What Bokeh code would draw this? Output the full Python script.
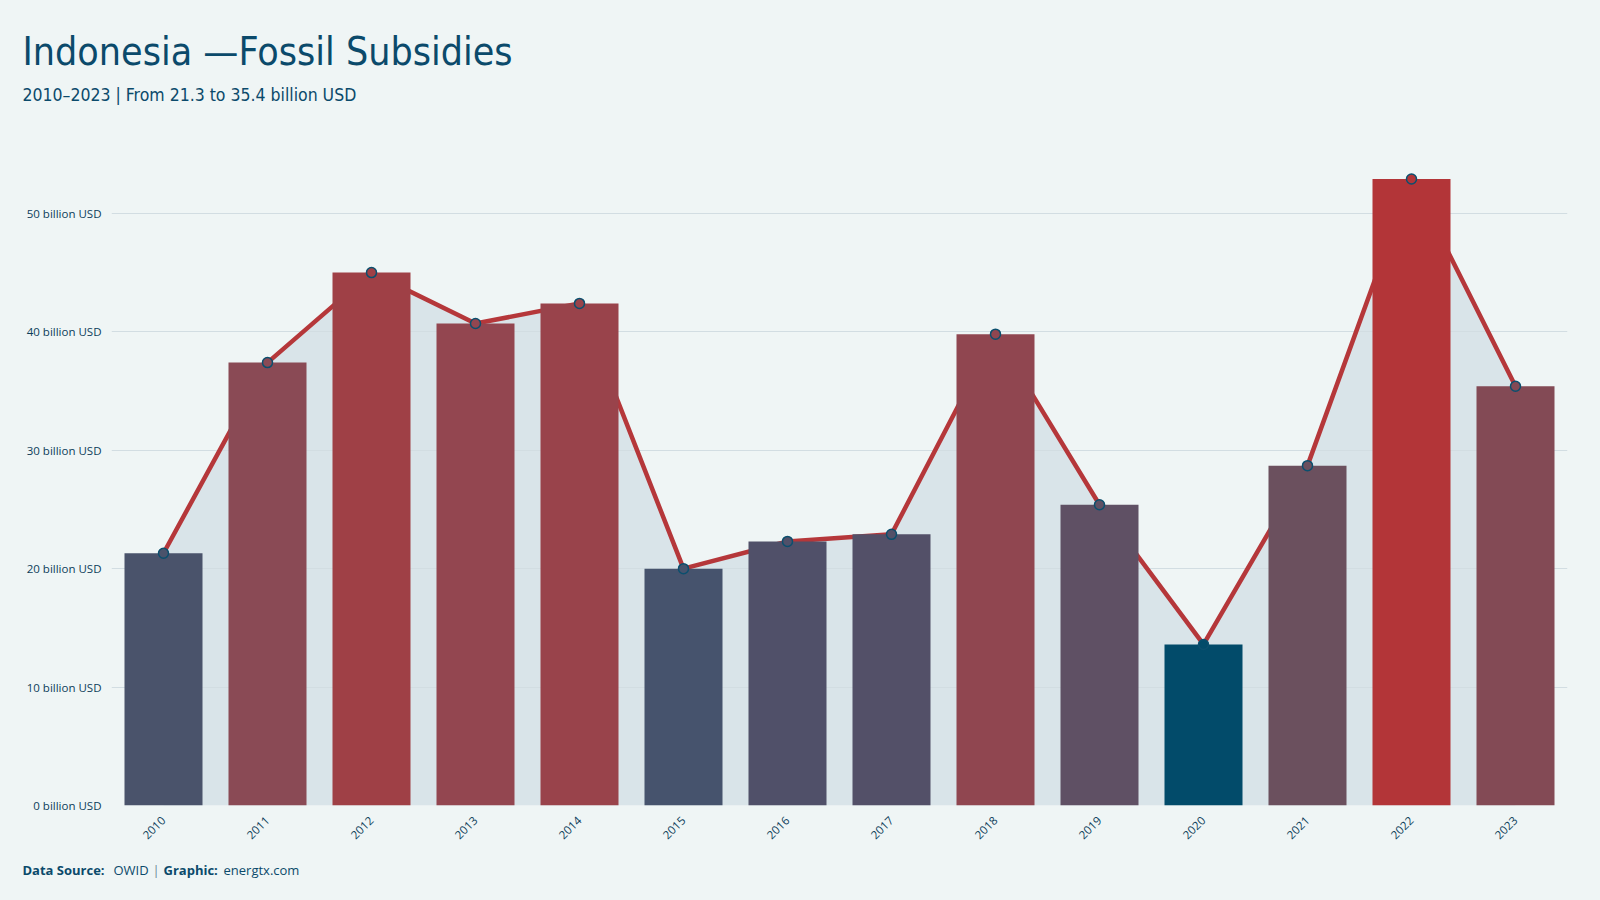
import math
from bokeh.plotting import figure
from bokeh.models import Title, FactorRange, Range1d, FixedTicker, ColumnDataSource
from bokeh.embed import file_html
from bokeh.resources import INLINE

years = [str(y) for y in range(2010, 2024)]
subsidies = [21.3, 37.4, 45.0, 40.7, 42.4, 20.0, 22.3, 22.9, 39.8, 25.4, 13.6, 28.7, 52.9, 35.4]
bar_colors = ["#4a536b", "#8a4a55", "#9f4046", "#934650", "#99434b", "#46536d", "#505069",
              "#535068", "#904650", "#5f5064", "#024b6a", "#6b505e", "#b33538", "#834a55"]
y_ticks = [0, 10, 20, 30, 40, 50]
y_tick_labels = {t: f"{t} billion USD" for t in y_ticks}
title_text = "Indonesia —Fossil Subsidies"
subtitle_text = "2010–2023 | From 21.3 to 35.4 billion USD"
footer_parts = ["Data Source:", "OWID", "|", "Graphic:", "energtx.com"]

BG = "#eff5f5"
DARK = "#0b4a6b"
TICK_FONT = "Open Sans"
TITLE_FONT = "DejaVu Sans Condensed"

src = ColumnDataSource(dict(year=years, val=subsidies, color=bar_colors))

p = figure(width=1600, height=900, x_range=FactorRange(*years), y_range=Range1d(0, 57),
           output_backend="svg", toolbar_location=None, title=None,
           min_border_left=111, min_border_right=33, min_border_top=130, min_border_bottom=95)
p.background_fill_color = None
p.border_fill_color = BG
p.outline_line_color = None

p.varea(x="year", y1=0, y2="val", source=src, fill_color="#d9e4e9", level="image")
p.line(x="year", y="val", source=src, line_color="#b5373a", line_width=4.5)
p.vbar(x="year", top="val", width=0.75, source=src, fill_color="color", line_color=None)
p.scatter(x="year", y="val", source=src, size=10, fill_color="color",
          line_color="#0b4f6e", line_width=1.5)

p.xgrid.grid_line_color = None
p.ygrid.grid_line_color = "#d2dde2"
p.ygrid.grid_line_width = 1.2
p.yaxis.ticker = FixedTicker(ticks=y_ticks)
p.yaxis.major_label_overrides = y_tick_labels
for ax in (p.xaxis[0], p.yaxis[0]):
    ax.axis_line_color = None
    ax.major_tick_line_color = None
    ax.minor_tick_line_color = None
    ax.major_tick_out = 0
    ax.major_tick_in = 0
    ax.minor_tick_out = 0
    ax.minor_tick_in = 0
    ax.major_label_text_color = "#0d3d5a"
    ax.major_label_text_font = TICK_FONT
    ax.major_label_text_font_size = "11.5px"
p.yaxis.major_label_standoff = 10
p.xaxis.major_label_orientation = math.pi / 4
p.xaxis.major_label_standoff = 13

# header: subtitle closest to the frame, then the main title
sub = Title(text=subtitle_text, text_font=TITLE_FONT, text_font_size="17.5px",
            text_font_style="normal", text_color=DARK, align="left", offset=-89, standoff=51)
main = Title(text=title_text, text_font=TITLE_FONT, text_font_size="39px",
             text_font_style="normal", text_color=DARK, align="left", offset=-89, standoff=-33)
p.add_layout(sub, "above")
p.add_layout(main, "above")

# footer: a spacer, then zero-height titles sharing one line
p.add_layout(Title(text=" ", text_font=TICK_FONT, text_font_size="13px", standoff=-7), "below")
styles = ["bold", "normal", "normal", "bold", "normal"]
colors = [DARK, DARK, "#6a8797", DARK, DARK]
offsets = [-89, 2, 41, 52, 112]
for txt, st, col, off in zip(footer_parts, styles, colors, offsets):
    p.add_layout(Title(text=txt, text_font=TICK_FONT, text_font_size="13px", text_font_style=st,
                       text_color=col, align="left", offset=off, standoff=-40), "below")

html = file_html(p, INLINE)
html = html.replace("<head>", f"<head><style>html, body {{ background: {BG}; margin: 0; }}</style>", 1)
open("out.html", "w").write(html)
